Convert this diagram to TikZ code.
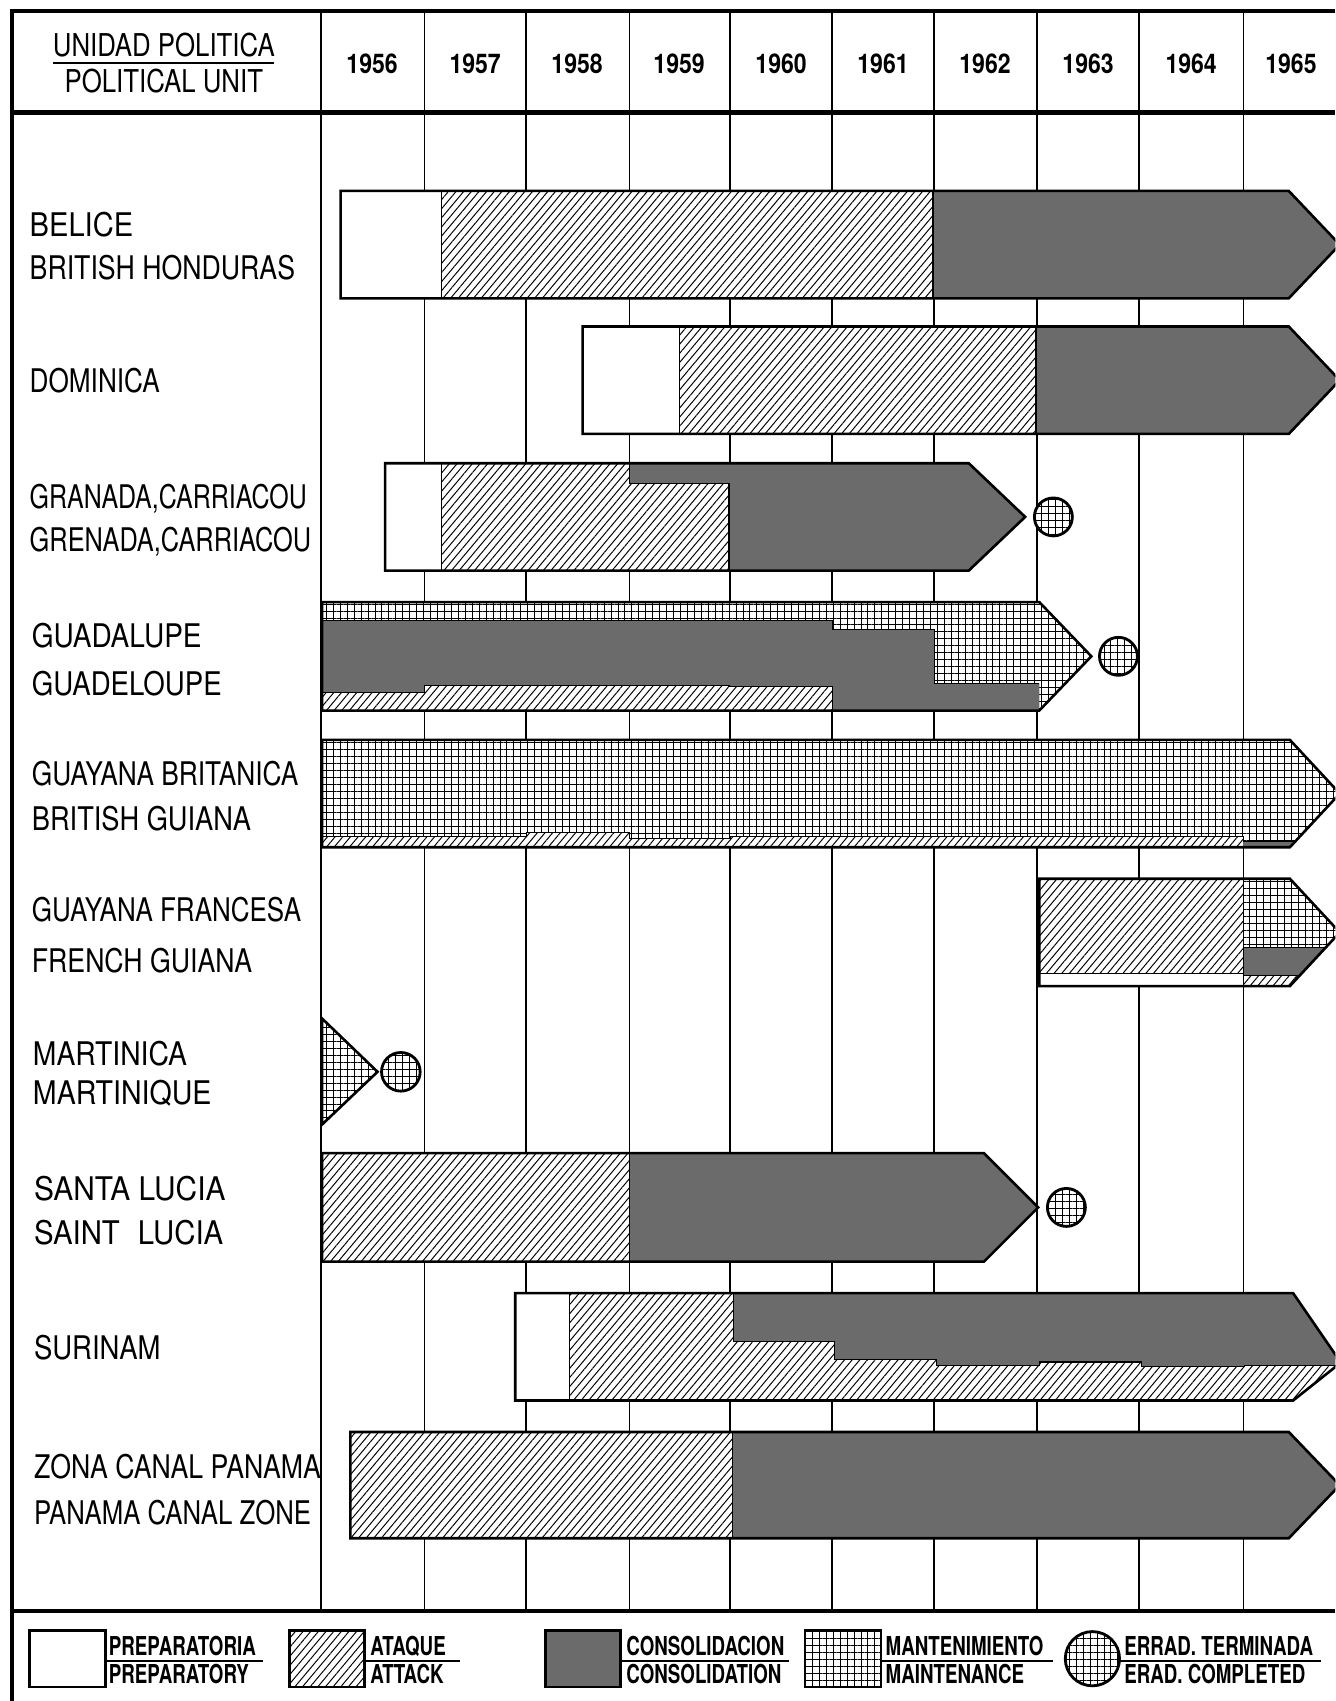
\documentclass[tikz,border=0pt]{standalone}
\usepackage{fontspec}
\setmainfont{TeX Gyre Heros}
\newfontfamily\rowfont{TeX Gyre Heros}[FakeStretch=0.82]
\newfontfamily\legfont{TeX Gyre Heros}[FakeStretch=0.72]
\newfontfamily\yrfont{TeX Gyre Heros}[FakeStretch=0.85]
\usetikzlibrary{patterns.meta}
\newcommand{\sx}[2]{\scalebox{#1}[1]{#2}}
\tikzset{
  framel/.style={line width=1.7pt},
  hdrl/.style={line width=2.2pt},
  divl/.style={line width=1pt},
  gridl/.style={line width=0.6pt},
  barl/.style={line width=1.2pt, line join=miter},
  innerl/.style={line width=0.5pt},
  undl/.style={line width=0.8pt},
  prepf/.style={fill=white},
  attf/.style={preaction={fill=white}, pattern={Lines[angle=50,distance=2.7pt,line width=0.45pt]}},
  consf/.style={fill=black!58},
  maintf/.style={preaction={fill=white}, pattern={Hatch[distance=3.2pt,line width=0.35pt]}},
  erad/.style={maintf, line width=1.3pt},
  rowlab/.style={anchor=base west, inner sep=0pt, font=\rowfont\fontsize{15}{17}\selectfont},
  hdlab/.style={anchor=base, inner sep=0pt, font=\rowfont\fontsize{14.5}{16}\selectfont},
  yearlab/.style={anchor=base, inner sep=0pt, font=\yrfont\bfseries\fontsize{12.5}{14}\selectfont},
  leglab/.style={anchor=base west, inner sep=0pt, font=\legfont\bfseries\fontsize{12}{14}\selectfont},
}
\begin{document}
\begin{tikzpicture}[x=0.5pt,y=-0.5pt]
\useasboundingbox (0,0) rectangle (1231,1568);
\clip (0,0) rectangle (1231,1568);

% ---------- grid and frame ----------
\foreach \gx in {391,485,580,673,767,861,956,1050,1146}{
  \draw[gridl] (\gx,10) -- (\gx,1485);
}
\draw[framel] (1231,10) -- (11,10) -- (11,1568);
\draw[hdrl] (11,104) -- (1231,104);
\draw[framel] (11,1485) -- (1231,1485);
\draw[divl] (296,10) -- (296,1485);

% ---------- header ----------
\node[hdlab] (h1) at (151,52) {UNIDAD POLITICA};
\draw[undl] (49,58) -- (253,58);
\node[hdlab] (h2) at (151,85) {POLITICAL UNIT};
\foreach \yr/\cx in {1956/343,1957/438,1958/532,1959/626,1960/720,1961/814,1962/908,1963/1003,1964/1098,1965/1190}{
  \node[yearlab] (y\yr) at (\cx,67.5) {\yr};
}

% ---------- row labels ----------
\node[rowlab] (l1a) at (27,218) {\sx{1.09}{BELICE}};
\node[rowlab] (l1b) at (27,258) {BRITISH HONDURAS};
\node[rowlab] (l2a) at (27,362) {\sx{0.98}{DOMINICA}};
\node[rowlab] (l3a) at (27,469) {\sx{0.935}{GRANADA,CARRIACOU}};
\node[rowlab] (l3b) at (27,508) {\sx{0.95}{GRENADA,CARRIACOU}};
\node[rowlab] (l4a) at (29,597) {\sx{1.05}{GUADALUPE}};
\node[rowlab] (l4b) at (29,641) {\sx{1.035}{GUADELOUPE}};
\node[rowlab] (l5a) at (29,724) {\sx{0.985}{GUAYANA BRITANICA}};
\node[rowlab] (l5b) at (29,766) {\sx{1.02}{BRITISH GUIANA}};
\node[rowlab] (l6a) at (29,849) {\sx{0.975}{GUAYANA FRANCESA}};
\node[rowlab] (l6b) at (29,896) {FRENCH GUIANA};
\node[rowlab] (l7a) at (30,982) {\sx{1.06}{MARTINICA}};
\node[rowlab] (l7b) at (30,1018) {\sx{1.07}{MARTINIQUE}};
\node[rowlab] (l8a) at (31,1107) {\sx{1.12}{SANTA LUCIA}};
\node[rowlab] (l8b) at (31,1147) {\sx{1.1}{SAINT\enspace LUCIA}};
\node[rowlab] (l9a) at (31,1253) {\sx{1.03}{SURINAM}};
\node[rowlab] (l10a) at (31,1363) {ZONA CANAL PANAMA};
\node[rowlab] (l10b) at (31,1405) {\sx{0.965}{PANAMA CANAL ZONE}};

% ---------- Belice ----------
\path[prepf] (314,176) rectangle (407,275);
\path[attf] (407,176) rectangle (860,275);
\path[consf] (860,176) -- (1188,176) -- (1235,225.5) -- (1188,275) -- (860,275) -- cycle;
\draw[innerl] (407,176) -- (407,275) (860,176) -- (860,275);
\draw[barl] (314,176) -- (1188,176) -- (1235,225.5) -- (1188,275) -- (314,275) -- cycle;

% ---------- Dominica ----------
\path[prepf] (537,301) rectangle (626,400);
\path[attf] (626,301) rectangle (955,400);
\path[consf] (955,301) -- (1188,301) -- (1235,350.5) -- (1188,400) -- (955,400) -- cycle;
\draw[innerl] (626,301) -- (626,400) (955,301) -- (955,400);
\draw[barl] (537,301) -- (1188,301) -- (1235,350.5) -- (1188,400) -- (537,400) -- cycle;

% ---------- Grenada ----------
\path[prepf] (355,427) rectangle (407,526);
\path[attf] (407,427) -- (580,427) -- (580,446) -- (672,446) -- (672,526) -- (407,526) -- cycle;
\path[consf] (580,427) -- (893,427) -- (945,476.5) -- (893,526) -- (672,526) -- (672,446) -- (580,446) -- cycle;
\draw[innerl] (407,427) -- (407,526) (580,427) -- (580,446) -- (672,446) -- (672,526);
\draw[barl] (355,427) -- (893,427) -- (945,476.5) -- (893,526) -- (355,526) -- cycle;
\draw[erad] (971,476.5) circle[radius=17.5];

% ---------- Guadeloupe ----------
\path[maintf] (297,555) -- (958,555) -- (1006,605) -- (958,655) -- (297,655) -- cycle;
\path[consf] (297,572) -- (767,572) -- (767,580) -- (861,580) -- (861,630) -- (958,630) -- (958,655) -- (767,655) -- (767,633) -- (672,633) -- (672,631.5) -- (391,631.5) -- (391,638) -- (297,638) -- cycle;
\path[attf] (297,638) -- (391,638) -- (391,631.5) -- (672,631.5) -- (672,633) -- (767,633) -- (767,655) -- (297,655) -- cycle;
\draw[innerl] (297,572) -- (767,572) -- (767,580) -- (861,580) -- (861,630) -- (958,630);
\draw[innerl] (297,638) -- (391,638) -- (391,631.5) -- (672,631.5) -- (672,633) -- (767,633) -- (767,655);
\draw[barl] (297,555) -- (958,555) -- (1006,605) -- (958,655) -- (297,655) -- cycle;
\draw[erad] (1031,605) circle[radius=17.5];

% ---------- British Guiana ----------
\path[maintf] (297,682) -- (1189,682) -- (1235,731.5) -- (1189,781) -- (297,781) -- cycle;
\path[attf] (297,771) -- (485,771) -- (485,767) -- (580,767) -- (580,773) -- (673,773) -- (673,771.5) -- (1146,771.5) -- (1146,776) -- (1193.6,776) -- (1189,781) -- (297,781) -- cycle;
\path[consf] (1146,776) -- (1193.6,776) -- (1189,781) -- (1146,781) -- cycle;
\draw[innerl] (297,771) -- (485,771) -- (485,767) -- (580,767) -- (580,773) -- (673,773) -- (673,771.5) -- (1146,771.5) -- (1146,776) -- (1193.6,776);
\draw[barl] (297,682) -- (1189,682) -- (1235,731.5) -- (1189,781) -- (297,781) -- cycle;

% ---------- French Guiana ----------
\path[attf] (958,810) rectangle (1146,897.5);
\path[prepf] (958,897.5) rectangle (1146,909);
\begin{scope}
  \clip (1146,810) -- (1189,810) -- (1235,859.5) -- (1189,909) -- (1146,909) -- cycle;
  \path[maintf] (1140,800) rectangle (1240,873.5);
  \path[consf] (1140,873.5) rectangle (1240,899.5);
  \path[attf] (1140,899.5) rectangle (1240,915);
  \draw[innerl] (1146,873.5) -- (1240,873.5) (1146,899.5) -- (1240,899.5);
\end{scope}
\draw[innerl] (958,897.5) -- (1146,897.5) (1146,810) -- (1146,909);
\draw[barl] (958,810) -- (1189,810) -- (1235,859.5) -- (1189,909) -- (958,909) -- cycle;

% ---------- Martinique ----------
\draw[barl, maintf] (297,939) -- (348,988) -- (297,1036.5) -- cycle;
\draw[erad] (369.5,988) circle[radius=17.8];

% ---------- Saint Lucia ----------
\path[attf] (297,1063) rectangle (580,1163);
\path[consf] (580,1063) -- (907,1063) -- (957,1113) -- (907,1163) -- (580,1163) -- cycle;
\draw[innerl] (580,1063) -- (580,1163);
\draw[barl] (297,1063) -- (907,1063) -- (957,1113) -- (907,1163) -- (297,1163) -- cycle;
\draw[erad] (983,1113) circle[radius=17.5];

% ---------- Surinam ----------
\path[prepf] (475,1192) rectangle (525,1291);
\begin{scope}
  \clip (525,1192) -- (1192,1192) -- (1236,1256) -- (1192,1291) -- (525,1291) -- cycle;
  \path[attf] (520,1185) rectangle (1240,1300);
  \path[consf] (676,1180) -- (1240,1180) -- (1240,1258.5) -- (1147,1258.5) -- (1147,1259.5) -- (1052,1259.5) -- (1052,1255.5) -- (958,1255.5) -- (958,1258.5) -- (863.5,1258.5) -- (863.5,1253.5) -- (769,1253.5) -- (769,1236.5) -- (676,1236.5) -- cycle;
  \draw[innerl] (676,1180) -- (676,1236.5) -- (769,1236.5) -- (769,1253.5) -- (863.5,1253.5) -- (863.5,1258.5) -- (958,1258.5) -- (958,1255.5) -- (1052,1255.5) -- (1052,1259.5) -- (1147,1259.5) -- (1147,1258.5) -- (1240,1258.5);
\end{scope}
\draw[innerl] (525,1192) -- (525,1291);
\draw[barl] (475,1192) -- (1192,1192) -- (1236,1256) -- (1192,1291) -- (475,1291) -- cycle;

% ---------- Panama Canal Zone ----------
\path[attf] (323,1320) rectangle (675,1418);
\path[consf] (675,1320) -- (1188,1320) -- (1235,1369) -- (1188,1418) -- (675,1418) -- cycle;
\draw[innerl] (675,1320) -- (675,1418);
\draw[barl] (323,1320) -- (1188,1320) -- (1235,1369) -- (1188,1418) -- (323,1418) -- cycle;

% ---------- legend ----------
\draw[barl, prepf] (27,1503) rectangle (97,1555);
\node[leglab] (g1a) at (100,1526) {PREPARATORIA};
\draw[undl] (97,1531) -- (242,1531);
\node[leglab] (g1b) at (100,1552) {PREPARATORY};

\draw[barl, attf] (267,1503) rectangle (336,1555);
\node[leglab] (g2a) at (341,1526) {ATAQUE};
\draw[undl] (336,1531) -- (424,1531);
\node[leglab] (g2b) at (341,1552) {ATTACK};

\draw[barl, consf] (503,1503) rectangle (572,1555);
\node[leglab] (g3a) at (577,1526) {CONSOLIDACION};
\draw[undl] (572,1531) -- (727,1531);
\node[leglab] (g3b) at (577,1552) {CONSOLIDATION};

\draw[barl, maintf] (742,1503) rectangle (812,1555);
\node[leglab] (g4a) at (816,1526) {MANTENIMIENTO};
\draw[undl] (812,1531) -- (971,1531);
\node[leglab] (g4b) at (816,1552) {MAINTENANCE};

\draw[erad] (1007,1529) circle[radius=25];
\node[leglab] (g5a) at (1036,1526) {ERRAD. TERMINADA};
\draw[undl] (1032,1531) -- (1218,1531);
\node[leglab] (g5b) at (1036,1552) {ERAD. COMPLETED};
\end{tikzpicture}
\end{document}
